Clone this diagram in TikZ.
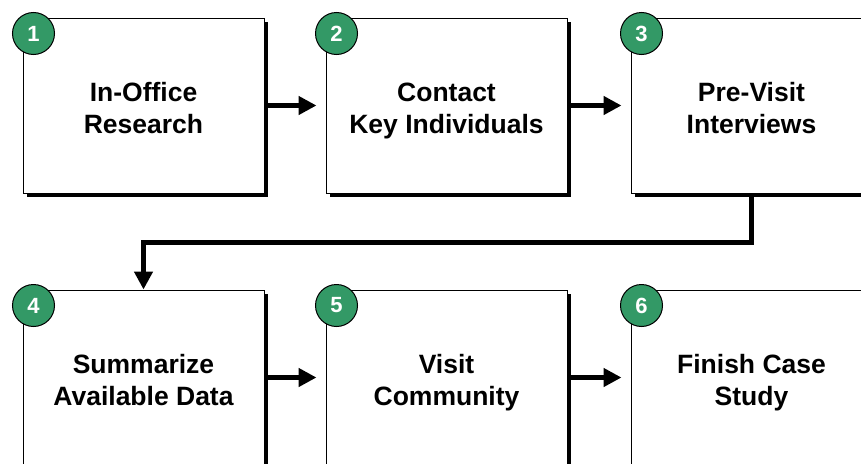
\documentclass[tikz,border=0pt]{standalone}
\usepackage{fontspec}
\setmainfont{Liberation Sans}
\usetikzlibrary{arrows.meta,shadows,calc}
\definecolor{stepgreen}{HTML}{339966}
\begin{document}
\begin{tikzpicture}[x=1pt,y=-1pt,
  stepbox/.style={rectangle, draw=black, line width=1pt, fill=white,
    minimum width=241pt, minimum height=175pt, inner sep=0pt,
    general shadow={fill=black, shadow xshift=4pt, shadow yshift=-4pt}},
  steptext/.style={font=\fontsize{26.5}{31.7}\selectfont\bfseries, align=center, inner sep=0pt, yshift=-5.7pt},
  stepnum/.style={circle, draw=black, line width=1pt, fill=stepgreen, minimum size=42pt, inner sep=0pt,
    text=white, font=\fontsize{22}{26}\selectfont\bfseries},
  flow/.style={line width=4.5pt, line join=miter, -{Triangle[length=18pt,width=18pt]}}]
\useasboundingbox (0,0) rectangle (861,463);
\clip (0,0) rectangle (861,463);
% boxes
\node[stepbox] (b1) at (143.5,105.5) {};
\node[stepbox] (b2) at (446.5,105.5) {};
\node[stepbox] (b3) at (751.5,105.5) {};
\node[stepbox] (b4) at (143.5,377.5) {};
\node[stepbox] (b5) at (446.5,377.5) {};
\node[stepbox] (b6) at (751.5,377.5) {};
% texts
\node[steptext] (t1) at (b1.center) {\strut In-Office\\Research\strut};
\node[steptext] (t2) at (b2.center) {\strut Contact\\Key Individuals\strut};
\node[steptext] (t3) at (b3.center) {\strut Pre-Visit\\Interviews\strut};
\node[steptext] (t4) at (b4.center) {\strut Summarize\\Available Data\strut};
\node[steptext] (t5) at (b5.center) {\strut Visit\\Community\strut};
\node[steptext] (t6) at (b6.center) {\strut Finish Case\\Study\strut};
% numbers
\node[stepnum] (n1) at ($(b1.north west)+(11,16)$) {1};
\node[stepnum] (n2) at ($(b2.north west)+(11,16)$) {2};
\node[stepnum] (n3) at ($(b3.north west)+(11,16)$) {3};
\node[stepnum] (n4) at ($(b4.north west)+(11,16)$) {4};
\node[stepnum] (n5) at ($(b5.north west)+(11,16)$) {5};
\node[stepnum] (n6) at ($(b6.north west)+(11,16)$) {6};
% connectors
\draw[flow, shorten >=9pt] (b1.east) -- (b2.west);
\draw[flow, shorten >=9pt] (b2.east) -- (b3.west);
\draw[flow, shorten >=9pt] (b4.east) -- (b5.west);
\draw[flow, shorten >=9pt] (b5.east) -- (b6.west);
\draw[flow] (b3.south) -- ++(0,49) -| (b4.north);
\end{tikzpicture}
\end{document}
